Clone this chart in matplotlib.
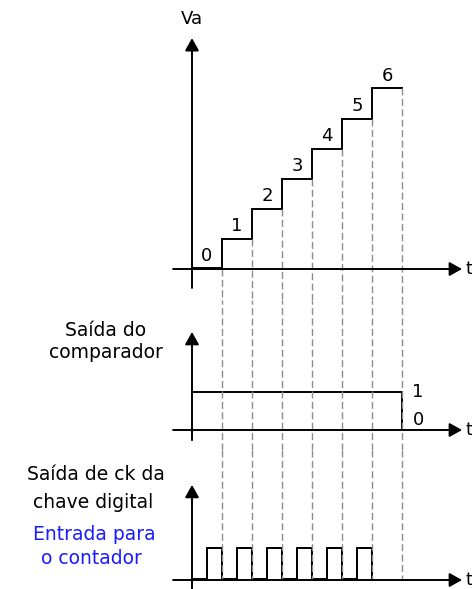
import matplotlib.pyplot as plt
from matplotlib.patches import ArrowStyle

# staircase Va: step k holds level k from edge k to edge k+1
step_edges = [0, 1, 2, 3, 4, 5, 6, 7]
step_levels = [0, 1, 2, 3, 4, 5, 6]
step_labels = ["0", "1", "2", "3", "4", "5", "6"]

# comparator output: high until t=7, then low
comp_times = [0, 7, 7]
comp_values = [1, 1, 0]

# clock pulses into the counter
pulse_rise = [0.5, 1.5, 2.5, 3.5, 4.5, 5.5]
pulse_fall = [1, 2, 3, 4, 5, 6]

W, H = 472, 589
x0_px, px_per_t = 192, 30.0

fig = plt.figure(figsize=(W / 100, H / 100), dpi=100)
fig.patch.set_facecolor("white")


def make_axes(top_px, bot_px, zero_px, px_per_unit):
    ax = fig.add_axes([0, 1 - bot_px / H, 1, (bot_px - top_px) / H])
    ax.set_xlim(-x0_px / px_per_t, (W - x0_px) / px_per_t)
    ax.set_ylim(-(bot_px - zero_px) / px_per_unit, (zero_px - top_px) / px_per_unit)
    ax.axis("off")
    return ax


ax1 = make_axes(0, 300, 269, 30.1)
ax2 = make_axes(300, 450, 430, 37.7)
ax3 = make_axes(450, 589, 580, 31.7)

lw = 1.4
head = ArrowStyle("-|>", head_length=0.75, head_width=0.42)
dash = dict(color="#8c8c8c", lw=1.0, linestyle=(0, (5, 2.5)))
t_x = 9.1


def axes_arrows(ax, x_tip, y_tip, y_bottom):
    ax.annotate("", xy=(x_tip, 0), xytext=(-0.63, 0),
                arrowprops=dict(arrowstyle=head, mutation_scale=10, lw=lw,
                                color="black", shrinkA=0, shrinkB=0))
    ax.annotate("", xy=(0, y_tip), xytext=(0, y_bottom),
                arrowprops=dict(arrowstyle=head, mutation_scale=10, lw=lw,
                                color="black", shrinkA=0, shrinkB=0))


# --- top: staircase
axes_arrows(ax1, 9.0, 7.67, -0.63)
xs, ys = [], []
for i, lvl in enumerate(step_levels):
    xs += [step_edges[i], step_edges[i + 1]]
    ys += [lvl, lvl]
ax1.plot(xs, ys, color="black", lw=lw, solid_joinstyle="miter")
ax1.plot([step_edges[0], step_edges[1]], [step_levels[0] + 0.04] * 2, color="black", lw=lw)
for i, lvl in enumerate(step_levels):
    ax1.text((step_edges[i] + step_edges[i + 1]) / 2, lvl + 0.42, step_labels[i],
             ha="center", va="center", fontsize=13)
for i in range(1, len(step_edges)):
    start = step_levels[i - 1] if i < len(step_levels) else step_levels[-1]
    ax1.plot([step_edges[i], step_edges[i]], [start, ax1.get_ylim()[0]], **dash)
ax1.text(0, (269 - 19) / 30.1, "Va", ha="center", va="center", fontsize=13)
ax1.text(t_x, 0, "t", ha="left", va="center", fontsize=13)

# --- middle: comparator
axes_arrows(ax2, 9.0, 2.6, -0.27)
ax2.plot(comp_times, comp_values, color="black", lw=lw)
for t in step_edges[1:]:
    ax2.plot([t, t], list(ax2.get_ylim()), **dash)
ax2.text(7.35, 1.0, "1", ha="left", va="center", fontsize=13)
ax2.text(7.35, 0.27, "0", ha="left", va="center", fontsize=13)
ax2.text(t_x, 0, "t", ha="left", va="center", fontsize=13)

# --- bottom: clock
axes_arrows(ax3, 9.0, 3.0, -0.28)
px, py = [0], [0]
for r, f in zip(pulse_rise, pulse_fall):
    px += [r, r, f, f]
    py += [0, 1, 1, 0]
ax3.plot(px, py, color="black", lw=lw)
ax3.plot(px, [v + 0.04 if v == 0 else v for v in py], color="black", lw=lw)
for t in step_edges[1:]:
    ax3.plot([t, t], [ax3.get_ylim()[1], 0], **dash)
ax3.text(t_x, 0, "t", ha="left", va="center", fontsize=13)

# left-hand labels
def label(x, y, s, color="black"):
    fig.text(x / W, 1 - y / H, s, ha="center", va="center", fontsize=13.5, color=color)


label(106, 330, "Saída do")
label(106, 353, "comparador")
label(96, 475, "Saída de ck da")
label(93, 502, "chave digital")
label(94, 535, "Entrada para", color="#1a1aff")
label(91, 558, "o contador", color="#1a1aff")

fig.savefig("out.png", dpi=100)
